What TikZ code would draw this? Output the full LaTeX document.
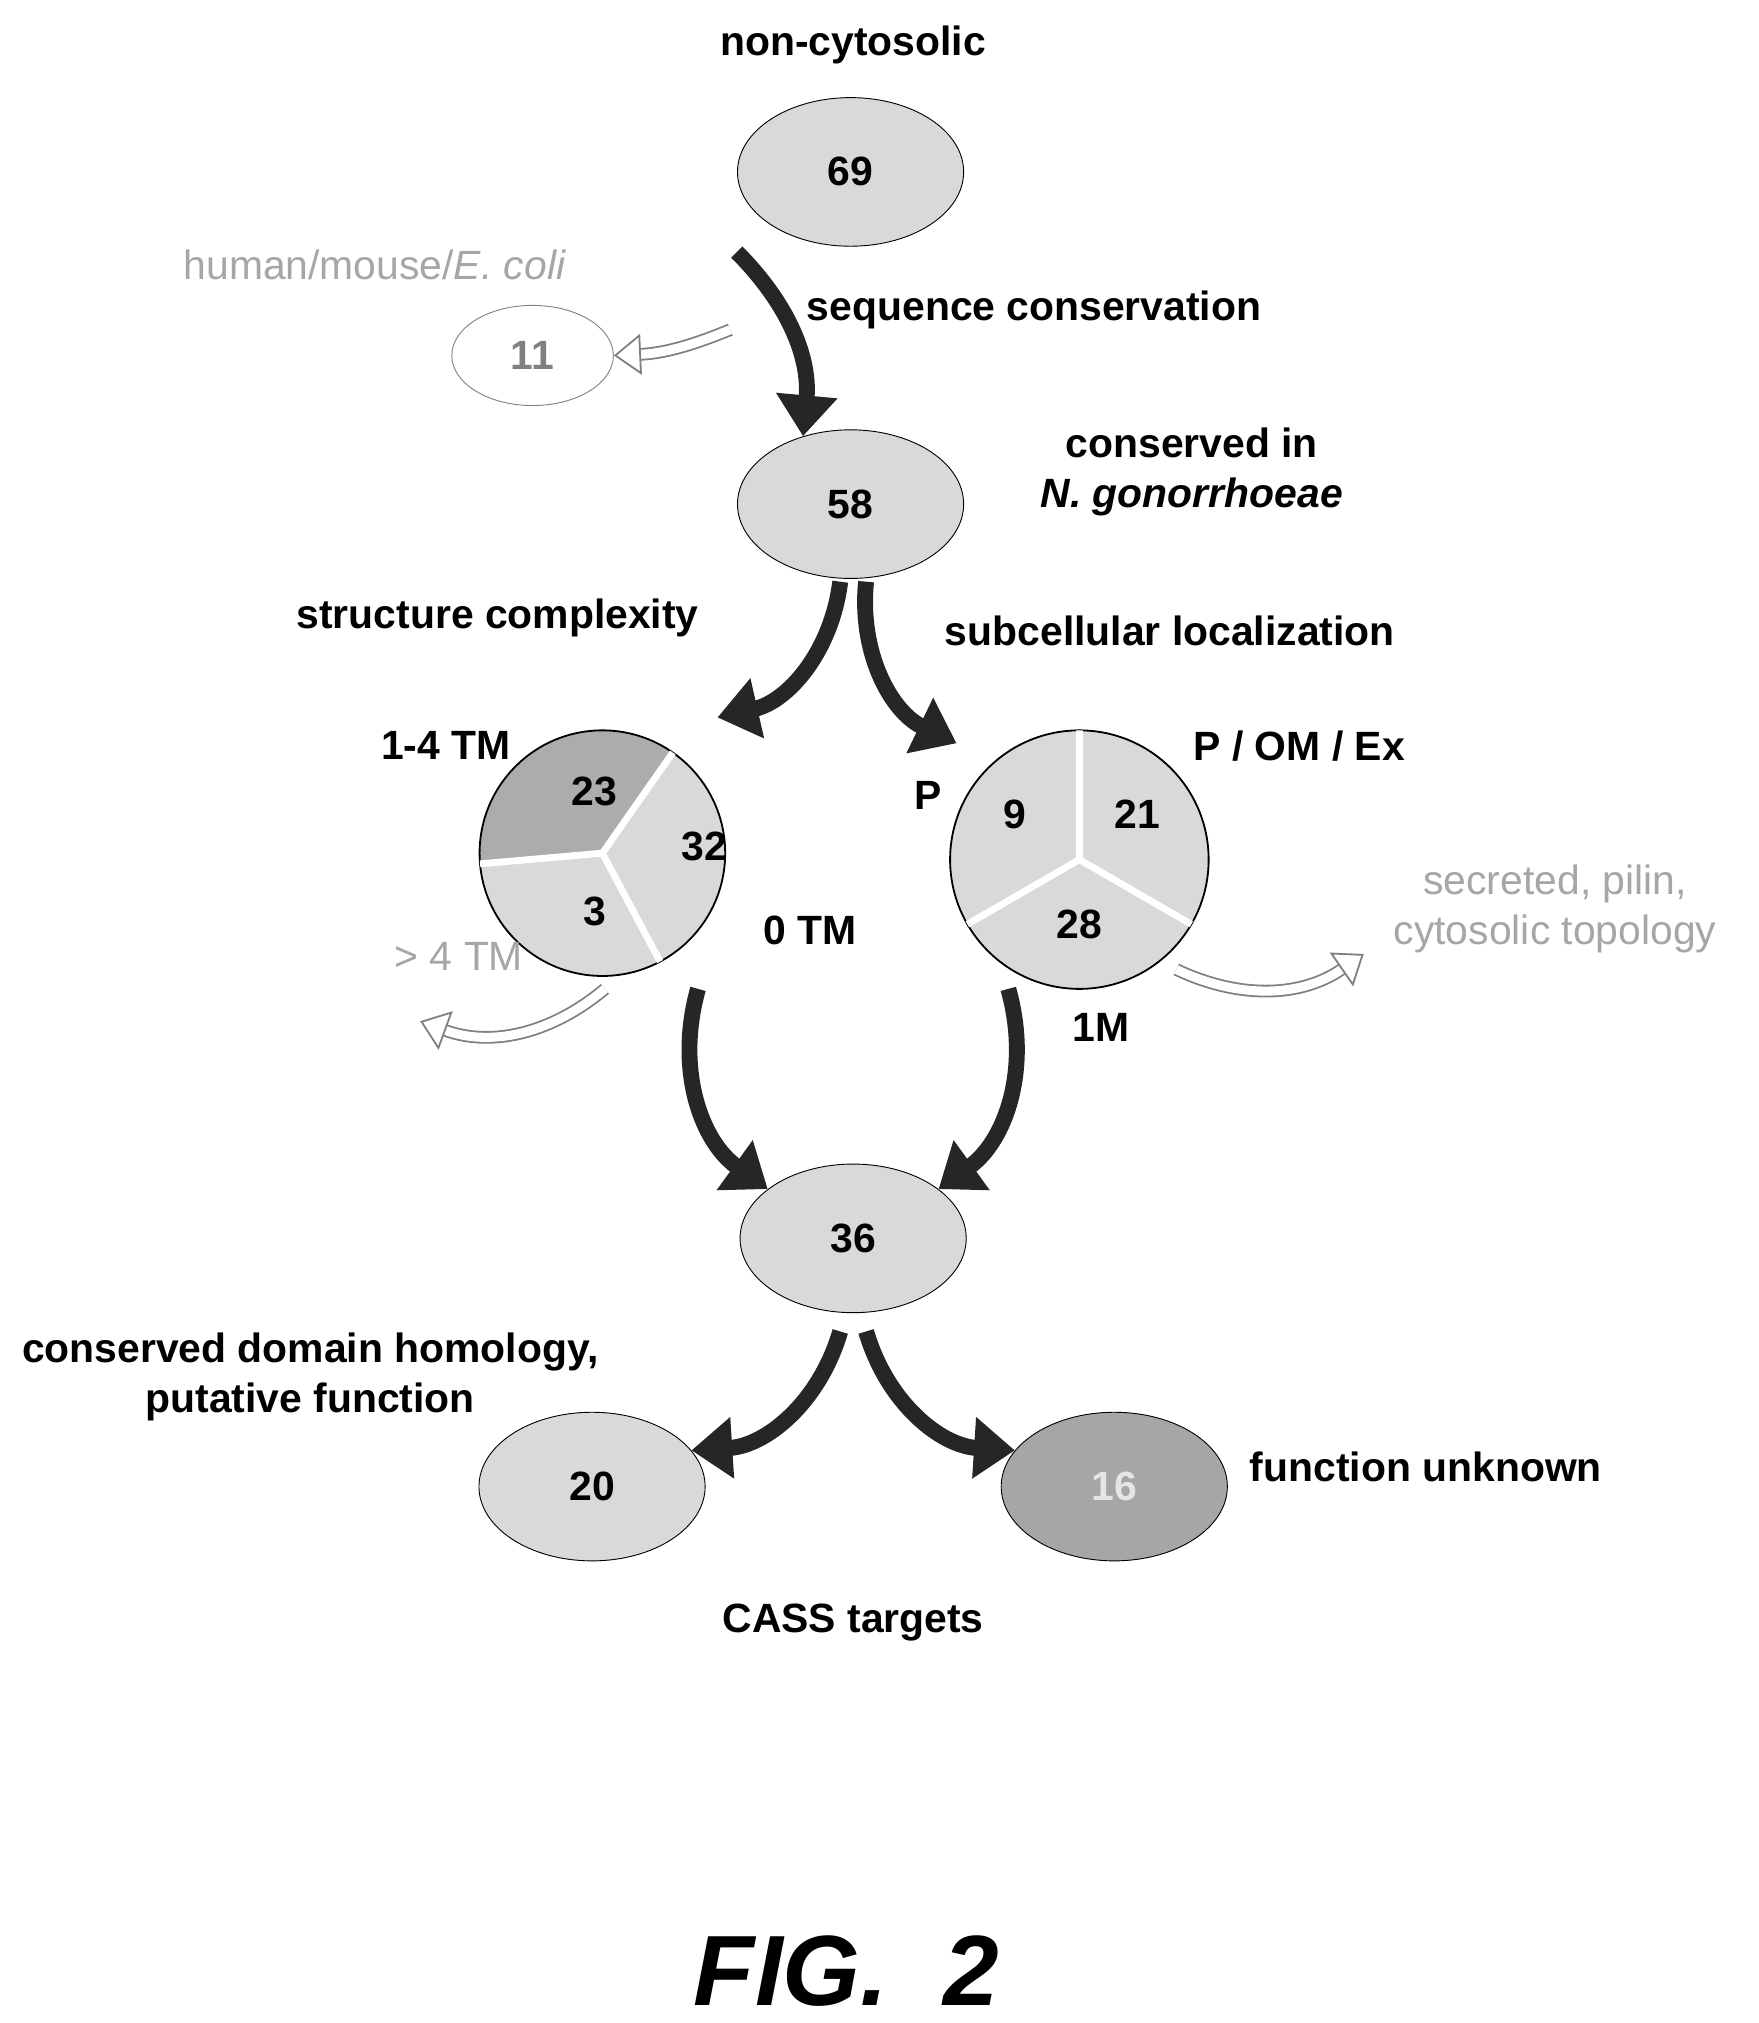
\documentclass[tikz,border=0pt]{standalone}
\usepackage{fontspec}
\setmainfont{Liberation Sans}
\usetikzlibrary{shapes.geometric, arrows.meta, positioning}

\tikzset{
  cell/.style={ellipse, draw, fill=gray!30, minimum width=3.5cm, minimum height=2.3cm, font=\bfseries\fontsize{18}{22}\selectfont},
  lbl/.style={font=\bfseries\fontsize{18}{22}\selectfont, align=center},
  gone/.style={font=\fontsize{18}{22}\selectfont, text=gray!70, align=center},
  flow/.style={line width=7pt, -{Triangle[length=18pt, width=26pt]}, draw=black!85},
  drop/.style={draw=gray, line width=0.8pt, double=white, double distance=4pt, -{Triangle[open, length=12pt, width=18pt]}},
}

\begin{document}
\begin{tikzpicture}[x=0.02cm, y=-0.02cm]
\useasboundingbox (0,0) rectangle (1360,1565);

% top part
\node[lbl] (tnoncyt) at (660,35) {non-cytosolic};
\node[cell] (e69) at (658,133) {69};
\node[gone] (thuman) at (290,205) {human/mouse/\textit{E. coli}};
\node[cell, fill=white, draw=gray, text=gray, minimum width=2.5cm, minimum height=1.55cm] (e11) at (412,275) {11};
\node[lbl] (tseq) at (800,240) {sequence conservation};
\node[cell] (e58) at (658,390) {58};
\node[lbl] (tcons) at (922,365) {conserved in\\\textit{N. gonorrhoeae}};

\coordinate (s69) at (570,195);
\coordinate (d11) at (565,255);
\draw[flow] (s69) to[bend left=25] (e58.125);
\draw[drop] (d11) to[bend left=10] (e11.east);

\node[lbl] (tstruct) at (385,478) {structure complexity};
\node[lbl] (tsub) at (905,488) {subcellular localization};

% the two pies
\coordinate (pl) at (466,660);
\coordinate (pr) at (835,665);
\fill[gray!30] (pl) circle[radius=95];
\fill[gray!65] (pl) -- +(-55:95) arc[start angle=-55, end angle=-185, radius=95] -- cycle;
\draw[thick] (pl) circle[radius=95];
\draw[white, line width=3pt] (pl) -- +(-55:95) (pl) -- +(-185:95) (pl) -- +(62:95);
\fill[gray!30] (pr) circle[radius=100];
\draw[thick] (pr) circle[radius=100];
\draw[white, line width=3pt] (pr) -- +(-90:100) (pr) -- +(150:100) (pr) -- +(30:100);

\node[lbl] (n23) at (460,612) {23};
\node[lbl] (n32) at (545,655) {32};
\node[lbl] (n3) at (460,705) {3};
\node[lbl] (n9) at (785,630) {9};
\node[lbl] (n21) at (880,630) {21};
\node[lbl] (n28) at (835,715) {28};

\node[lbl] (t14) at (345,577) {1-4 TM};
\node[lbl] (t0) at (627,720) {0 TM};
\node[gone] (t4) at (355,740) {> 4 TM};
\node[lbl] (tp) at (718,615) {P};
\node[lbl] (tpom) at (1005,577) {P / OM / Ex};
\node[lbl] (t1m) at (852,795) {1M};
\node[gone] (tsec) at (1203,703) {secreted, pilin,\\cytosolic topology};

\coordinate (s58l) at (650,450);
\coordinate (s58r) at (670,450);
\coordinate (dl) at (555,555);
\coordinate (dr) at (740,575);
\draw[flow] (s58l) to[bend left=35] (dl);
\draw[flow] (s58r) to[bend right=35] (dr);

\coordinate (g4) at (468,765);
\coordinate (g4e) at (325,790);
\coordinate (gs) at (910,750);
\coordinate (gse) at (1055,738);
\draw[drop] (g4) to[bend left=30] (g4e);
\draw[drop] (gs) to[bend right=30] (gse);

% lower part
\node[cell] (e36) at (660,958) {36};
\coordinate (sl) at (540,765);
\coordinate (sr) at (780,765);
\draw[flow] (sl) to[bend right=35] (e36.150);
\draw[flow] (sr) to[bend left=35] (e36.30);

\node[lbl] (tdom) at (240,1065) {conserved domain homology,\\putative function};
\node[cell] (e20) at (458,1150) {20};
\node[cell, fill=gray!70, text=gray!20] (e16) at (862,1150) {16};
\node[lbl] (tunk) at (1103,1135) {function unknown};
\node[lbl] (tcass) at (660,1255) {CASS targets};

\coordinate (s36l) at (650,1030);
\coordinate (s36r) at (670,1030);
\draw[flow] (s36l) to[bend left=35] (e20.20);
\draw[flow] (s36r) to[bend right=35] (e16.160);

\node[font=\rmfamily\bfseries\itshape\fontsize{44}{48}\selectfont] (tfig) at (655,1525) {FIG.~~2};
\end{tikzpicture}
\end{document}
